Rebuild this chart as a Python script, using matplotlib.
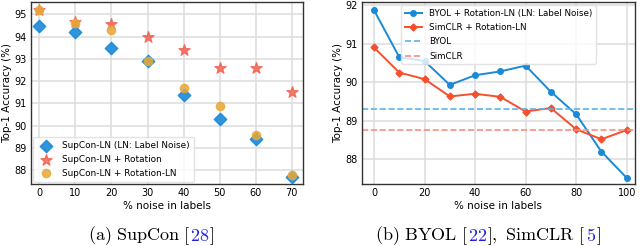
import matplotlib
matplotlib.use("Agg")
import matplotlib.pyplot as plt

# left panel: SupCon
noise_a = [0, 10, 20, 30, 40, 50, 60, 70]
supcon_ln = [94.5, 94.2, 93.5, 92.9, 91.4, 90.3, 89.4, 87.7]
supcon_rot = [95.2, 94.65, 94.55, 94.0, 93.4, 92.6, 92.6, 91.5]
supcon_rot_ln = [95.2, 94.6, 94.3, 92.9, 91.7, 90.9, 89.6, 87.8]

# right panel: BYOL / SimCLR
noise_b = [0, 10, 20, 30, 40, 50, 60, 70, 80, 90, 100]
byol_rot_ln = [91.87, 90.65, 90.55, 89.93, 90.18, 90.28, 90.43, 89.75, 89.17, 88.2, 87.52]
simclr_rot_ln = [90.9, 90.25, 90.08, 89.63, 89.7, 89.62, 89.24, 89.33, 88.78, 88.52, 88.76]
byol_base = 89.3
simclr_base = 88.77

plt.rcParams['mathtext.fontset'] = 'cm'

fig = plt.figure(figsize=(6.4, 2.46), dpi=100)
W, H = 640, 246
ax1 = fig.add_axes([31 / W, 62 / H, 272 / W, 182 / H])
ax2 = fig.add_axes([362 / W, 62 / H, 273 / W, 182 / H])


def style_axes(ax):
    ax.grid(True, color='#dddddd', linewidth=1.1)
    ax.set_axisbelow(True)
    for s in ax.spines.values():
        s.set_color('#333333')
        s.set_linewidth(1.0)
    ax.tick_params(labelsize=7, length=0, pad=3)
    ax.set_xlabel('% noise in labels', fontsize=7.5, labelpad=2)
    ax.set_ylabel('Top-1 Accuracy (%)', fontsize=7.5, labelpad=2)


# Plot left scatter
ax1.scatter(noise_a, supcon_ln, marker='D', s=40, color='#1a8ad8', alpha=0.9,
            label='SupCon-LN (LN: Label Noise)', zorder=3)
ax1.scatter(noise_a, supcon_rot, marker='*', s=70, color='#f25d4d', alpha=0.8,
            label='SupCon-LN + Rotation', zorder=3)
ax1.scatter(noise_a, supcon_rot_ln, marker='o', s=35, color='#e8a838', alpha=0.85,
            label='SupCon-LN + Rotation-LN', zorder=4)
ax1.set_xlim(-2.3, 73.1)
ax1.set_ylim(87.38, 95.56)
ax1.set_xticks(noise_a)
ax1.set_yticks([88, 89, 90, 91, 92, 93, 94, 95])
style_axes(ax1)
ax1.legend(loc='lower left', fontsize=6.4, frameon=True, borderpad=0.5,
           borderaxespad=0.2, handletextpad=0.8, labelspacing=0.55, edgecolor='#dddddd')

# Plot right lines
ax2.plot(noise_b, byol_rot_ln, marker='o', markersize=4, linewidth=1.4, color='#1a8ad4',
         label='BYOL + Rotation-LN (LN: Label Noise)')
ax2.plot(noise_b, simclr_rot_ln, marker='D', markersize=3.5, linewidth=1.4, color='#f4502e',
         label='SimCLR + Rotation-LN')
ax2.axhline(byol_base, linestyle='--', linewidth=1.2, color='#5ab4ec', label='BYOL')
ax2.axhline(simclr_base, linestyle='--', linewidth=1.2, color='#f8907e', label='SimCLR')
ax2.set_xlim(-4.75, 103.3)
ax2.set_ylim(87.36, 92.08)
ax2.set_xticks([0, 20, 40, 60, 80, 100])
ax2.set_yticks([88, 89, 90, 91, 92])
style_axes(ax2)
ax2.legend(loc='upper center', fontsize=6.3, frameon=True, borderpad=0.4,
           borderaxespad=0.4, handletextpad=0.8, labelspacing=0.6, edgecolor='#dddddd')


# captions with blue reference numbers
def caption(cx, parts, y=236):
    renderer = fig.canvas.get_renderer()
    texts = []
    total = 0
    for s, c in parts:
        t = fig.text(0, (H - y) / H, s, color=c, fontsize=13, va='center',
                     transform=fig.transFigure)
        w = t.get_window_extent(renderer).width
        texts.append((t, w))
        total += w
    x = cx - total / 2
    for t, w in texts:
        t.set_x(x / W)
        x += w


k = '#000000'
b = '#2020e0'
caption(151, [(r'$\mathrm{(a)\ SupCon\ [}$', k), (r'$\mathrm{28}$', b), (r'$\mathrm{]}$', k)])
caption(488, [(r'$\mathrm{(b)\ BYOL\ [}$', k), (r'$\mathrm{22}$', b), (r'$\mathrm{],\ SimCLR\ [}$', k),
              (r'$\mathrm{5}$', b), (r'$\mathrm{]}$', k)])

fig.savefig('out.png', dpi=100)
